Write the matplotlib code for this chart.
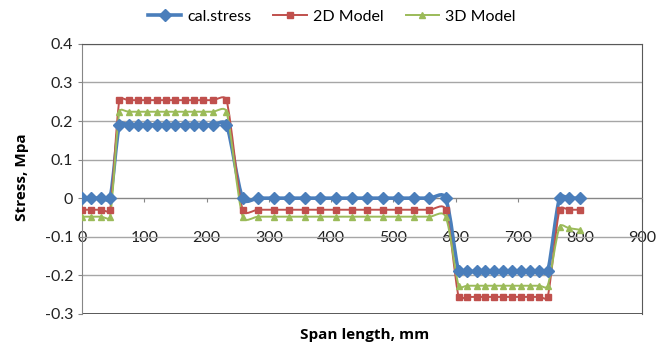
import matplotlib
matplotlib.use('Agg')
import matplotlib.pyplot as plt
from matplotlib.path import Path
from matplotlib.patches import PathPatch
from matplotlib.lines import Line2D
from matplotlib.ticker import FuncFormatter

plt.rcParams['font.family'] = ['Lato', 'DejaVu Sans']

# span positions, mm
span = [0, 15, 30, 45,
        60, 75, 90, 105, 120, 135, 150, 165, 180, 195, 210, 232,
        258, 283, 308, 333, 358, 383, 408, 433, 458, 483, 508, 533, 558, 584,
        605, 619, 634, 648, 662, 677, 691, 705, 720, 734, 748,
        767, 783, 800]

cal_stress = [0] * 4 + [0.19] * 12 + [0] * 14 + [-0.19] * 11 + [0] * 3
model_2d = [-0.03] * 4 + [0.254] * 12 + [-0.03] * 14 + [-0.256] * 11 + [-0.03] * 3
model_3d = [-0.048] * 4 + [0.224] * 12 + [-0.048] * 14 + [-0.227] * 11 + [-0.075, -0.078, -0.082]

series = [
    ('cal.stress', cal_stress, '#4A7EBB', 'D', 6.5, 2.6),
    ('2D Model', model_2d, '#C0504D', 's', 5.0, 1.4),
    ('3D Model', model_3d, '#9BBB59', '^', 5.0, 1.4),
]

X_LIM = (0, 900)
Y_LIM = (-0.3, 0.4)
AX_RECT = [0.123, 0.098, 0.840, 0.776]
FIG_SIZE = (6.67, 3.48)


def smooth_path(xs, ys, sx, sy):
    # Excel style smoothed line, control arms capped at half the segment
    n = len(xs)
    px = [x * sx for x in xs]
    py = [y * sy for y in ys]

    def dist(i, j):
        return ((px[j] - px[i]) ** 2 + (py[j] - py[i]) ** 2) ** 0.5

    verts = [(xs[0], ys[0])]
    codes = [Path.MOVETO]
    for i in range(n - 1):
        i0 = max(i - 1, 0)
        i3 = min(i + 2, n - 1)
        seg = dist(i, i + 1)
        f1 = 1 / 6
        arm = dist(i0, i + 1) / 6
        if arm > seg / 2:
            f1 = f1 * (seg / 2) / arm
        f2 = 1 / 6
        arm = dist(i, i3) / 6
        if arm > seg / 2:
            f2 = f2 * (seg / 2) / arm
        c1 = (xs[i] + (xs[i + 1] - xs[i0]) * f1, ys[i] + (ys[i + 1] - ys[i0]) * f1)
        c2 = (xs[i + 1] - (xs[i3] - xs[i]) * f2, ys[i + 1] - (ys[i3] - ys[i]) * f2)
        verts += [c1, c2, (xs[i + 1], ys[i + 1])]
        codes += [Path.CURVE4] * 3
    return Path(verts, codes)


fig = plt.figure(figsize=FIG_SIZE, dpi=100)
ax = fig.add_axes(AX_RECT)

# pixels per data unit, for the smoothing
sx = FIG_SIZE[0] * 100 * AX_RECT[2] / (X_LIM[1] - X_LIM[0])
sy = FIG_SIZE[1] * 100 * AX_RECT[3] / (Y_LIM[1] - Y_LIM[0])

handles = []
for name, vals, color, mk, ms, lw in series:
    ax.add_patch(PathPatch(smooth_path(span, vals, sx, sy), facecolor='none',
                           edgecolor=color, lw=lw, zorder=3))
    ax.plot(span, vals, ls='none', marker=mk, ms=ms, color=color,
            markeredgecolor=color, zorder=4)
    handles.append(Line2D([], [], color=color, lw=lw, marker=mk, ms=ms))

ax.set_xlim(*X_LIM)
ax.set_ylim(*Y_LIM)
ax.set_xticks(range(0, 901, 100))
ax.set_yticks([-0.3, -0.2, -0.1, 0, 0.1, 0.2, 0.3, 0.4])
ax.yaxis.set_major_formatter(FuncFormatter(lambda v, p: f'{round(v, 1):g}'))
ax.grid(axis='y', color='#a6a6a6', lw=1.0)
ax.set_axisbelow(True)

ax.spines['bottom'].set_position(('data', 0))
ax.spines['bottom'].set_color('#868686')
ax.spines['left'].set_color('#868686')
ax.spines['top'].set_color('#595959')
ax.spines['right'].set_color('#595959')
ax.axhline(-0.3, color='#404040', lw=1.2, zorder=2)

ax.tick_params(axis='both', labelsize=11.5, color='#868686', length=3,
               labelcolor='#222222')
ax.tick_params(axis='x', pad=21)

fig.text(0.033, 0.49, 'Stress, Mpa', rotation=90, ha='center', va='center',
         fontsize=11, fontweight='bold', family=['Open Sans', 'DejaVu Sans'])
fig.text(0.546, 0.037, 'Span length, mm', ha='center', va='center',
         fontsize=11, fontweight='bold', family=['Open Sans', 'DejaVu Sans'])

fig.legend(handles=handles, labels=[s[0] for s in series], loc='center',
           bbox_to_anchor=(0.497, 0.952), ncol=3, frameon=False,
           fontsize=11.5, handlelength=2.1, columnspacing=1.4, handletextpad=0.35)

fig.savefig('out.png', dpi=100)
